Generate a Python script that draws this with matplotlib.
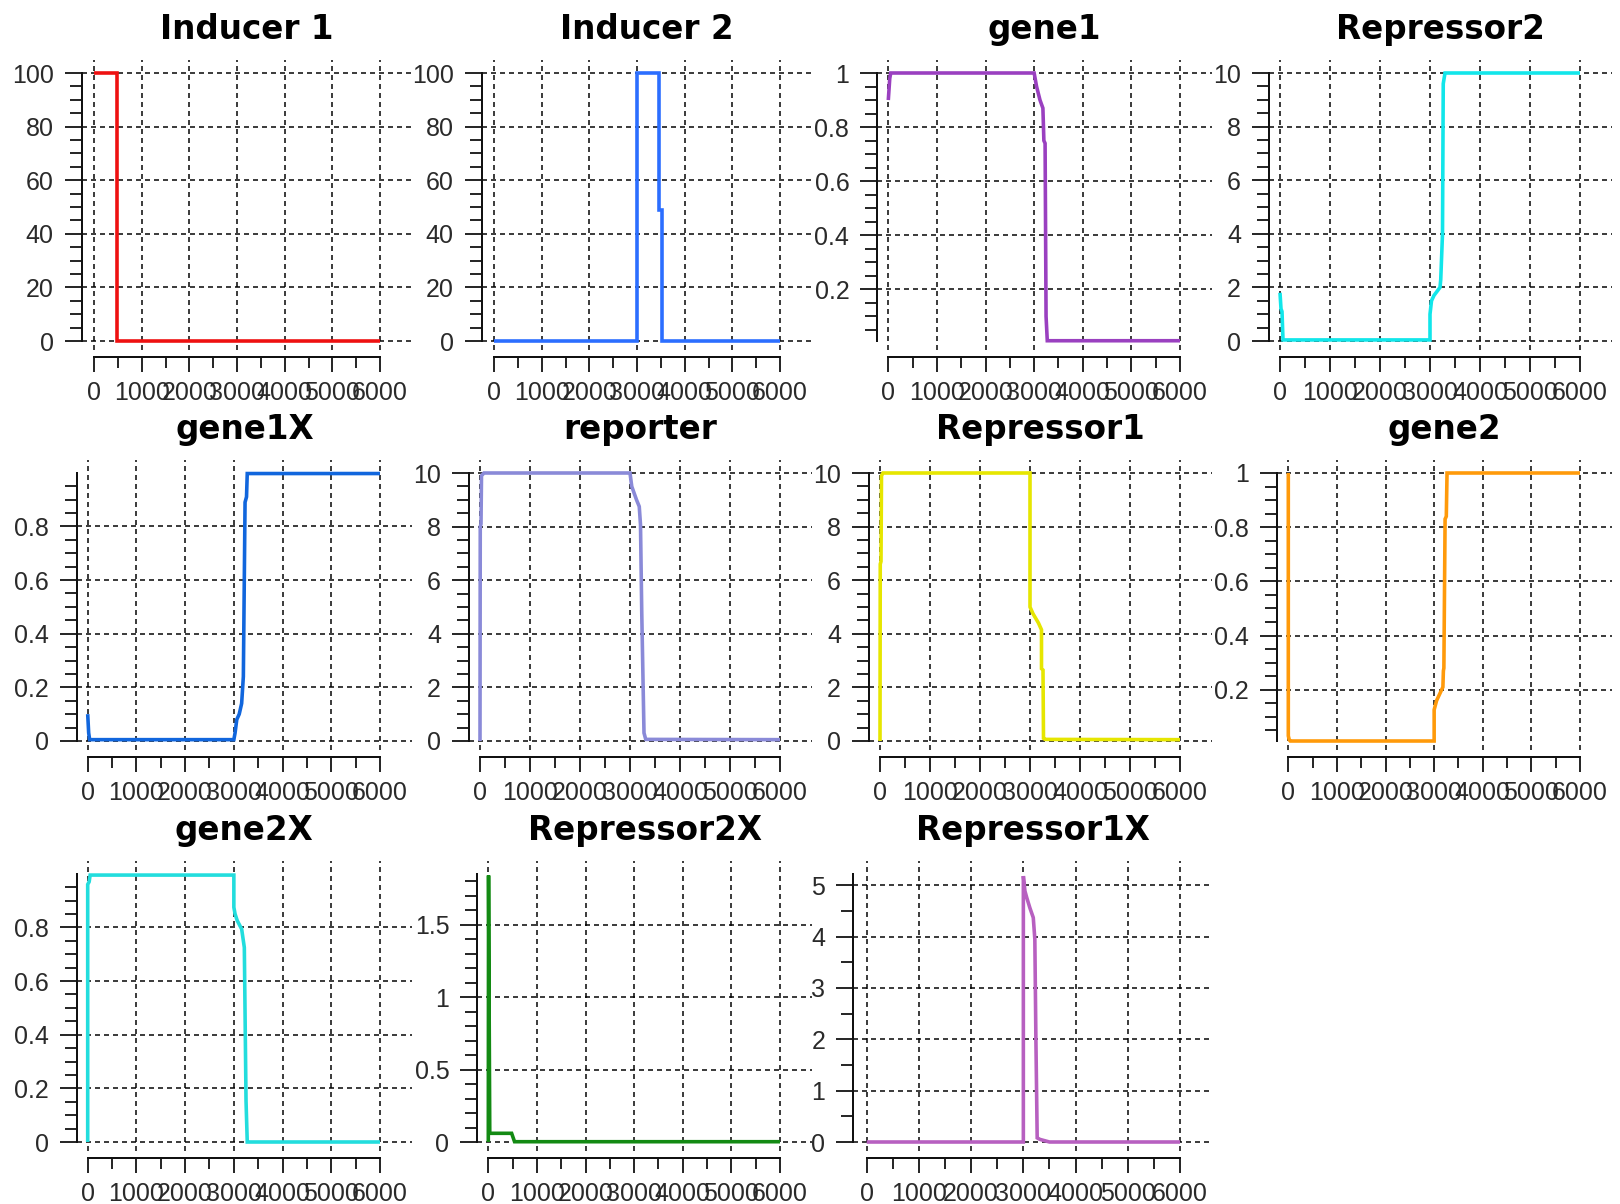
import numpy as np
import matplotlib
matplotlib.use("Agg")
import matplotlib.pyplot as plt
from matplotlib.ticker import FixedLocator, FuncFormatter

plt.rcParams['lines.scale_dashes'] = False

W, H, DPI = 1620, 1204, 100

# ---------------- simulated time courses (time, level) ----------------
inducer1_t = [0, 480, 480, 6000]
inducer1_v = [100, 100, 0, 0]

inducer2_t = [0, 3000, 3000, 3470, 3470, 3520, 3520, 6000]
inducer2_v = [0, 0, 100, 100, 49, 49, 0, 0]

gene1_t = [0, 30, 50, 3000, 3050, 3120, 3180, 3200, 3225, 3245, 3270, 6000]
gene1_v = [0.90, 0.98, 1.0, 1.0, 0.95, 0.90, 0.87, 0.75, 0.74, 0.10, 0.01, 0.01]

repressor2_t = [0, 20, 40, 60, 3000, 3000, 3030, 3080, 3200, 3215, 3250, 3265, 3300, 6000]
repressor2_v = [1.8, 1.2, 1.1, 0.04, 0.04, 1.0, 1.5, 1.7, 2.0, 2.3, 4.0, 9.6, 10, 10]

gene1x_t = [0, 20, 40, 3000, 3025, 3060, 3110, 3160, 3195, 3230, 3260, 3275, 6000]
gene1x_v = [0.10, 0.03, 0.005, 0.005, 0.03, 0.08, 0.10, 0.14, 0.24, 0.89, 0.91, 0.997, 0.997]

reporter_t = [0, 5, 20, 30, 80, 3000, 3035, 3130, 3185, 3210, 3235, 3280, 3315, 6000]
reporter_v = [0, 8.0, 8.1, 9.9, 10, 10, 9.5, 9.0, 8.75, 8.07, 4.8, 0.3, 0.06, 0.05]

repressor1_t = [0, 5, 20, 30, 60, 3000, 3000, 3060, 3170, 3230, 3230, 3260, 3270, 3300, 6000]
repressor1_v = [0, 6.6, 6.7, 9.9, 10, 10, 5.0, 4.75, 4.4, 4.15, 2.7, 2.65, 0.1, 0.06, 0.05]

gene2_t = [0, 0, 20, 40, 3000, 3000, 3050, 3180, 3190, 3200, 3225, 3250, 3265, 6000]
gene2_v = [1.0, 0.03, 0.015, 0.011, 0.011, 0.126, 0.16, 0.21, 0.27, 0.28, 0.83, 0.84, 1.0, 1.0]

gene2x_t = [0, 0, 30, 50, 3000, 3000, 3025, 3070, 3160, 3215, 3250, 3275, 6000]
gene2x_v = [0, 0.96, 0.97, 0.995, 0.995, 0.875, 0.85, 0.825, 0.794, 0.725, 0.153, 0.0, 0.0]

repressor2x_t = [0, 5, 15, 30, 480, 540, 6000]
repressor2x_v = [0, 1.84, 1.08, 0.06, 0.06, 0.002, 0.002]

repressor1x_t = [0, 3000, 3000, 3030, 3065, 3125, 3190, 3220, 3240, 3265, 3320, 3500, 6000]
repressor1x_v = [0, 0, 5.18, 4.89, 4.76, 4.56, 4.37, 3.95, 2.03, 0.08, 0.05, 0.0, 0.0]

titles = ["Inducer 1", "Inducer 2", "gene1", "Repressor2",
          "gene1X", "reporter", "Repressor1", "gene2",
          "gene2X", "Repressor2X", "Repressor1X"]
series = [(inducer1_t, inducer1_v), (inducer2_t, inducer2_v),
          (gene1_t, gene1_v), (repressor2_t, repressor2_v),
          (gene1x_t, gene1x_v), (reporter_t, reporter_v),
          (repressor1_t, repressor1_v), (gene2_t, gene2_v),
          (gene2x_t, gene2x_v), (repressor2x_t, repressor2x_v),
          (repressor1x_t, repressor1x_v)]
colors = ["#ee1111", "#2b6eff", "#9a40c0", "#11e6ea",
          "#1166dd", "#8a8ad8", "#e6e600", "#ff9a0a",
          "#22dddd", "#138a13", "#b760c0"]

# value range of each y axis and its labelled / minor tick spacing
y_range = [(0, 100), (0, 100), (0.009, 1.0), (0, 10),
           (0, 0.999), (0, 10), (0, 10), (0.011, 1.0),
           (0, 0.999), (0, 1.85), (0, 5.22)]
y_major = [20, 20, 0.2, 2, 0.2, 2, 2, 0.2, 0.2, 0.5, 1]
y_minor = [5, 5, 0.05, 0.5, 0.05, 0.5, 0.5, 0.05, 0.05, 0.1, 0.5]

x_major = [0, 1000, 2000, 3000, 4000, 5000, 6000]
x_minor = [500, 1500, 2500, 3500, 4500, 5500]

# ---------------- panel layout in pixels ----------------
grid_pos = [(0, 0), (0, 1), (0, 2), (0, 3),
            (1, 0), (1, 1), (1, 2), (1, 3),
            (2, 0), (2, 1), (2, 2)]
row_top = [0, 400, 801]
spine_px = [81.7, 481.7, 877.3, 1269, 76.7, 469, 869, 1276.7, 76.7, 477.3, 853.3]
zero_px = [94, 494, 888.3, 1280, 87.7, 480, 880, 1288.3, 87.7, 488.3, 866.7]
GRID_EXT = 32          # grid lines run past t=6000
TOP_V, BOT_V = 73, 341  # pixel rows of y range ends
TOP_A, BOT_A = 60, 350  # pixel rows of axes box

PT = 72.0 / DPI
tick_family = "Liberation Sans"
tick_size = 18
tick_color = "#2a2a2a"
axis_color = "#111111"

fig = plt.figure(figsize=(W / DPI, H / DPI), dpi=DPI)
fig.patch.set_facecolor("white")


def fmt(v, _pos):
    return "%g" % round(v, 6)


for i, title in enumerate(titles):
    r, c = grid_pos[i]
    off = row_top[r]
    end = 380 + 400 * c
    left = spine_px[i]
    right = end + GRID_EXT
    ax = fig.add_axes([left / W, 1 - (off + BOT_A) / H,
                       (right - left) / W, (BOT_A - TOP_A) / H])
    ax.patch.set_visible(False)

    # x limits: t=0 at zero_px, t=6000 at end
    xs = 6000.0 / (end - zero_px[i])
    ax.set_xlim(-(zero_px[i] - left) * xs, 6000 + GRID_EXT * xs)
    lo, hi = y_range[i]
    ys = (hi - lo) / (BOT_V - TOP_V)
    ax.set_ylim(lo - (BOT_A - BOT_V) * ys, hi + (TOP_V - TOP_A) * ys)

    t, v = series[i]
    ax.plot(t, v, color=colors[i], lw=3.6 * PT, solid_joinstyle="miter",
            solid_capstyle="butt", zorder=3)

    # ticks
    step = y_major[i]
    yt = [k * step for k in range(0, int(hi / step + 1e-9) + 1) if k * step >= lo - 1e-12]
    mstep = y_minor[i]
    ym = [k * mstep for k in range(0, int(hi / mstep + 1e-9) + 1)
          if k * mstep >= lo - 1e-12 and k * mstep <= hi + 1e-12]
    ym = [m for m in ym if all(abs(m - q) > 1e-9 for q in yt)]
    ax.yaxis.set_major_locator(FixedLocator(yt))
    ax.yaxis.set_minor_locator(FixedLocator(ym))
    ax.yaxis.set_major_formatter(FuncFormatter(fmt))
    ax.xaxis.set_major_locator(FixedLocator(x_major))
    ax.xaxis.set_minor_locator(FixedLocator(x_minor))
    ax.xaxis.set_major_formatter(FuncFormatter(fmt))

    for sp in ("top", "right"):
        ax.spines[sp].set_visible(False)
    ax.spines["left"].set_bounds(lo, hi)
    ax.spines["left"].set_linewidth(2.0 * PT)
    ax.spines["left"].set_color(axis_color)
    ax.spines["bottom"].set_bounds(0, 6000)
    ax.spines["bottom"].set_position(("outward", 7 * PT))
    ax.spines["bottom"].set_linewidth(2.0 * PT)
    ax.spines["bottom"].set_color(axis_color)

    ax.tick_params(axis="y", which="major", direction="out", length=17 * PT,
                   width=1.8 * PT, pad=11 * PT, color=axis_color,
                   labelcolor=tick_color)
    ax.tick_params(axis="y", which="minor", direction="out", length=12 * PT,
                   width=1.8 * PT, color=axis_color)
    ax.tick_params(axis="x", which="major", direction="out", length=15 * PT,
                   width=1.8 * PT, pad=9 * PT, color=axis_color,
                   labelcolor=tick_color)
    ax.tick_params(axis="x", which="minor", direction="out", length=11 * PT,
                   width=1.8 * PT, color=axis_color)
    for lab in ax.get_xticklabels() + ax.get_yticklabels():
        lab.set_fontfamily(tick_family)
        lab.set_fontsize(tick_size)

    ax.grid(True, which="major", color="black", lw=1.5 * PT,
            linestyle=(0, (5 * PT, 4 * PT)), zorder=1)
    ax.set_axisbelow(True)

    fig.text(((left + right) / 2) / W, 1 - (off + 39) / H, title,
             ha="center", va="baseline", fontfamily="DejaVu Sans",
             fontweight="bold", fontsize=23.5, color="black")

fig.savefig("out.png", dpi=DPI, facecolor="white")
